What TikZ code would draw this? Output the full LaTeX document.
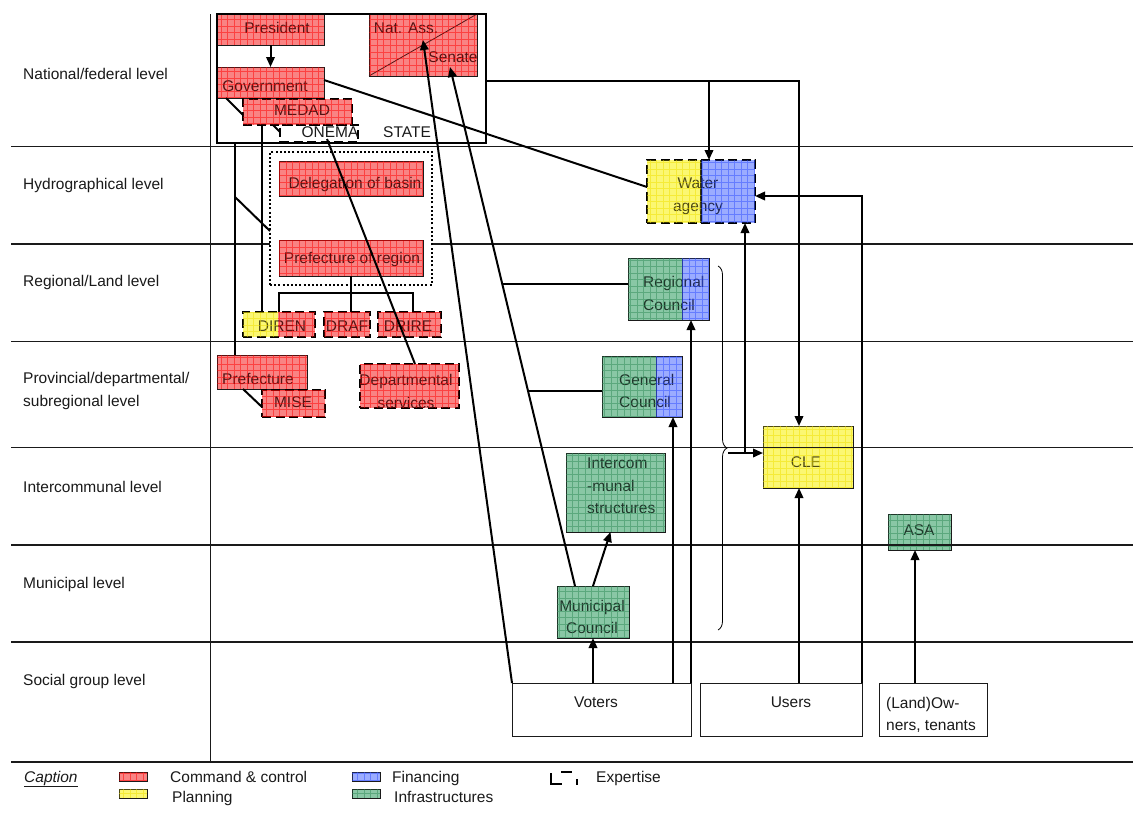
\documentclass[tikz,border=0pt]{standalone}
\usepackage{fontspec}
\setmainfont{Liberation Sans}
\usetikzlibrary{arrows.meta,calc,decorations.pathreplacing}

\definecolor{ink}{HTML}{1A1A1A}
\definecolor{ccbase}{HTML}{F7B0B0}
\definecolor{cctint}{HTML}{FF0000}
\definecolor{plbase}{HTML}{FFFF99}
\definecolor{pltint}{HTML}{F0E000}
\definecolor{fibase}{HTML}{C0CCFF}
\definecolor{fitint}{HTML}{3050FF}
\definecolor{inbase}{HTML}{A8DCC0}
\definecolor{intint}{HTML}{2E8B57}

% translucent wash plus a fine grid over a rectangle (drawn over the text)
\newcommand\wash[3]{%
  \begin{scope}
    \clip #1 rectangle #2;
    \fill[#3, opacity=.25] #1 rectangle #2;
    \draw[#3, line width=.45pt, opacity=.5, step=6.5pt] #1 grid #2;
  \end{scope}}
\newcommand\washnode[2]{\wash{(#1.north west)}{(#1.south east)}{#2}}

\tikzset{
  box/.style={anchor=north west, inner sep=0pt, outer sep=0pt, draw=ink, line width=.8pt},
  expert/.style={draw=black, line width=2.4pt, dash pattern=on 9pt off 4.5pt},
  frame/.style={anchor=north west, inner sep=0pt, outer sep=0pt},
  txt/.style={inner sep=0pt, text=ink, text height=11pt, text depth=3pt},
  mtxt/.style={inner sep=0pt, text=ink, align=center},
  ltxt/.style={inner sep=0pt, text=ink, align=left},
  link/.style={line width=2pt},
  arr/.style={line width=2pt, -{Triangle[length=10pt,width=8.5pt]}},
  level/.style={line width=1.3pt, draw=ink},
  zone/.style={anchor=north west, inner sep=0pt, outer sep=0pt, fill=white, draw=black,
    line width=1.6pt, dash pattern=on 2pt off 2.2pt},
  leftpart/.style={path picture={\fill[#1] (path picture bounding box.north west)
    rectangle ($(path picture bounding box.south west)+(54,0)$);}},
}

\begin{document}
\begin{tikzpicture}[x=1pt, y=-1pt, font=\fontsize{15.5}{22.5}\selectfont]
\useasboundingbox (0,0) rectangle (1133,819);
\fill[white] (0,0) rectangle (1133,819);

% ---------- level names
\node[txt, anchor=west] (lvNat) at (23,75) {National/federal level};
\node[txt, anchor=west] (lvHyd) at (23,185) {Hydrographical level};
\node[txt, anchor=west] (lvReg) at (23,282) {Regional/Land level};
\node[ltxt, anchor=west] (lvProv) at (23,391) {Provincial/departmental/\\subregional level};
\node[txt, anchor=west] (lvInt) at (23,488) {Intercommunal level};
\node[txt, anchor=west] (lvMun) at (23,584) {Municipal level};
\node[txt, anchor=west] (lvSoc) at (23,681) {Social group level};

% ---------- the State frame (outline drawn later)
\node[frame, minimum width=269pt, minimum height=129pt] (state) at (217,14) {};

% ---------- actors
\node[box, fill=ccbase, minimum width=107pt, minimum height=31pt] (pres) at (217,14) {};
\node[box, fill=ccbase, minimum width=107pt, minimum height=31pt] (gov) at (217,67) {};
\node[box, fill=ccbase, minimum width=108pt, minimum height=62pt] (natass) at (369,14) {};
\draw[line width=.8pt, ink] (natass.south west) -- (natass.north east);
\node[box, expert, fill=ccbase, minimum width=109pt, minimum height=26pt] (medad) at (243,99) {};
\node[box, expert, minimum width=78pt, minimum height=17pt] (onema) at (280,125) {};
\node[box, expert, fill=ccbase, minimum width=72pt, minimum height=25pt,
  path picture={\fill[plbase] (path picture bounding box.north west)
    rectangle ($(path picture bounding box.south west)+(35,0)$);}] (diren) at (243,312) {};
\node[box, expert, fill=ccbase, minimum width=46pt, minimum height=25pt] (draf) at (324,312) {};
\node[box, expert, fill=ccbase, minimum width=63pt, minimum height=25pt] (drire) at (378,312) {};
\node[box, fill=ccbase, minimum width=90pt, minimum height=34pt] (pref) at (217,355) {};
\node[box, expert, fill=ccbase, minimum width=63pt, minimum height=27pt] (mise) at (262,390) {};
\node[box, expert, fill=ccbase, minimum width=99pt, minimum height=44pt] (dept) at (360,364) {};
\node[box, expert, fill=fibase, leftpart=plbase, minimum width=108pt, minimum height=63pt] (wa) at (647,160) {};
\draw[line width=1.8pt] ($(wa.north west)+(54,0)$) -- ($(wa.south west)+(54,0)$);
\node[box, fill=fibase, leftpart=inbase, minimum width=81pt, minimum height=62pt] (rc) at (628,258) {};
\draw[line width=.8pt, ink] ($(rc.north west)+(54,0)$) -- ($(rc.south west)+(54,0)$);
\node[box, fill=fibase, leftpart=inbase, minimum width=80pt, minimum height=61pt] (gc) at (602,356) {};
\draw[line width=.8pt, ink] ($(gc.north west)+(54,0)$) -- ($(gc.south west)+(54,0)$);
\node[box, fill=plbase, minimum width=90pt, minimum height=62pt] (cle) at (763,426) {};
\node[box, fill=inbase, minimum width=99pt, minimum height=79pt] (ic) at (566,453) {};
\node[box, fill=inbase, minimum width=72pt, minimum height=52pt] (mc) at (557,586) {};
\node[box, fill=inbase, minimum width=63pt, minimum height=36pt] (asa) at (888,514) {};
\node[box, fill=white, minimum width=179pt, minimum height=53pt] (voters) at (512,683) {};
\node[box, fill=white, minimum width=162pt, minimum height=53pt] (users) at (700,683) {};
\node[box, fill=white, minimum width=108pt, minimum height=53pt] (owners) at (879,683) {};

% ---------- their names
\node[txt] (presT) at (277,30) {President};
\node[txt] (govT) at (265,87) {Government};
\node[txt] (natT) at (406,30) {Nat. Ass.};
\node[txt] (senT) at (453,58) {Senate};
\node[txt] (medadT) at (302,111) {MEDAD};
\node[txt] (onemaT) at (330,133) {ONEMA};
\node[txt] (stateT) at (407,133) {STATE};
\node[txt] (direnT) at (282,327) {DIREN};
\node[txt] (drafT) at (347,327) {DRAF};
\node[txt] (drireT) at (408,327) {DRIRE};
\node[txt] (prefT) at (258,380) {Prefecture};
\node[txt] (miseT) at (293,403) {MISE};
\node[mtxt] (deptT) at (406,391.5) {Departmental\\services};
\node[mtxt] (waT) at (698,196.5) {Water\\agency};
\node[ltxt, anchor=west] (rcT) at (643,293.5) {Regional\\Council};
\node[ltxt, anchor=west] (gcT) at (619,391) {General\\Council};
\node[txt] (cleT) at (806,463) {CLE};
\node[ltxt, anchor=west] (icT) at (587,486) {Intercom\\-munal\\structures};
\node[mtxt] (mcT) at (592,617) {Municipal\\Council};
\node[txt] (asaT) at (919,531) {ASA};
\node[txt] (votersT) at (596,703) {Voters};
\node[txt] (usersT) at (791,703) {Users};
\node[ltxt, anchor=west] (ownersT) at (886,715) {(Land)Ow-\\ners, tenants};

% ---------- hatched washes over the coloured boxes
\washnode{pres}{cctint}
\washnode{gov}{cctint}
\washnode{natass}{cctint}
\washnode{medad}{cctint}
\wash{(diren.north west)}{($(diren.south west)+(35,0)$)}{pltint}
\wash{($(diren.north west)+(35,0)$)}{(diren.south east)}{cctint}
\washnode{draf}{cctint}
\washnode{drire}{cctint}
\washnode{pref}{cctint}
\washnode{mise}{cctint}
\washnode{dept}{cctint}
\wash{(wa.north west)}{($(wa.south west)+(54,0)$)}{pltint}
\wash{($(wa.north west)+(54,0)$)}{(wa.south east)}{fitint}
\wash{(rc.north west)}{($(rc.south west)+(54,0)$)}{intint}
\wash{($(rc.north west)+(54,0)$)}{(rc.south east)}{fitint}
\wash{(gc.north west)}{($(gc.south west)+(54,0)$)}{intint}
\wash{($(gc.north west)+(54,0)$)}{(gc.south east)}{fitint}
\washnode{cle}{pltint}
\washnode{ic}{intint}
\washnode{mc}{intint}
\washnode{asa}{intint}

% ---------- level grid
\foreach \yy in {146.5,244,341.5,447.5,545,642,762}
  \draw[level] (11,\yy) -- (1133,\yy);
\draw[level] (210.5,14) -- (210.5,762);

% ---------- basin / region zone
\node[zone, minimum width=162pt, minimum height=133pt] (zone) at (270,152) {};
\node[box, fill=ccbase, minimum width=144pt, minimum height=35pt] (deleg) at (279,161) {};
\node[box, fill=ccbase, minimum width=144pt, minimum height=36pt] (prefreg) at (279,240) {};
\node[txt] (delegT) at (355,184) {Delegation of basin};
\node[txt] (prefregT) at (352,259) {Prefecture of region};
\washnode{deleg}{cctint}
\washnode{prefreg}{cctint}

\draw[line width=2.3pt] (state.north west) rectangle (state.south east);

% ---------- connectors
\draw[arr] (pres.south) -- (gov.north);
\draw[link] ($(gov.south west)+(9,0)$) -- ($(medad.west)+(0,3)$);
\draw[link] ($(medad.south west)+(30,0)$) -- ($(onema.west)+(0,-1.5)$);
\coordinate (mdDown) at ($(medad.south west)+(19,0)$);
\draw[link] (mdDown) -- (mdDown |- diren.north);
\coordinate (stDown) at ($(state.south west)+(18,0)$);
\coordinate (prefTop) at (stDown |- pref.north);
\draw[link] (stDown) -- (prefTop);
\draw[link] ($(stDown)!0.2547!(prefTop)$) -- ($(zone.west)+(0,12.5)$);

\coordinate (dirN) at ($(diren.north west)+(36,0)$);
\coordinate (drirN) at ($(drire.north)+(3.5,0)$);
\coordinate (bar) at ($(prefreg.south)+(0,17)$);
\draw[link] (prefreg.south) -- (prefreg.south |- draf.north);
\draw[link] (dirN) |- (bar -| drirN) -- (drirN);

\draw[link] ($(pref.south west)+(26,0)$) -- ($(mise.west)+(0,3.5)$);
\draw[link] ($(onema.south)+(8,-3)$) -- ($(dept.north)+(5.5,0)$);

\coordinate (govOut) at ($(gov.east)+(0,-2.5)$);
\coordinate (waL) at ($(wa.west)+(0,-4.5)$);
\draw[link] (govOut) -- (waL);

\coordinate (stateOut) at ($(state.east)+(0,2.5)$);
\coordinate (cleTop) at ($(cle.north)+(-9,0)$);
\draw[arr] (stateOut) -| (cleTop);
\coordinate (waTop) at ($(wa.north)+(8,0)$);
\draw[arr] (waTop |- stateOut) -- (waTop);

\coordinate (waR) at ($(wa.east)+(0,4.5)$);
\draw[arr] (users.north east) |- (waR);
\coordinate (cleBot) at ($(cle.south)+(-9,0)$);
\draw[arr] (cleBot |- users.north) -- (cleBot);

\coordinate (natIn) at ($(natass.center)+(0,-5)$);
\coordinate (senIn) at ($(natass.center)+(27,22)$);
\coordinate (mcOut) at ($(mc.north)+(-18,0)$);
\draw[arr] (voters.north west) -- (natIn);
\draw[arr] (mcOut) -- (senIn);
\coordinate (rcJoin) at ($(mcOut)!0.582!(senIn)$);
\coordinate (gcJoin) at ($(mcOut)!0.3757!(senIn)$);
\draw[link] (rcJoin) -- (rcJoin -| rc.west);
\draw[link] (gcJoin) -- (gcJoin -| gc.west);

\draw[arr] (voters.north east) -- (voters.north east |- rc.south);
\coordinate (vgc) at ($(voters.north east)+(-18,0)$);
\draw[arr] (vgc) -- (vgc |- gc.south);
\draw[arr] (mc.south |- voters.north) -- (mc.south);
\draw[arr] (mc.north) -- ($(ic.south)+(-5,0)$);
\coordinate (asaIn) at ($(asa.south)+(-4.5,0)$);
\draw[arr] (asaIn |- owners.north) -- (asaIn);

% councils grouped by a brace, feeding the CLE and the water agency
\coordinate (brTop) at (718,266);
\coordinate (brBot) at (718,630);
\draw[line width=.8pt, decorate, decoration={brace, amplitude=9pt}] (brTop) -- (brBot);
\coordinate (brTip) at (728,453);
\draw[arr] (brTip) -- (brTip -| cle.west);
\coordinate (waBot) at ($(wa.south)+(44,0)$);
\draw[arr] (waBot |- brTip) -- (waBot);

% ---------- caption
\node[txt, anchor=west] (capT) at (24,778) {\underline{\textit{Caption}}};
\node[box, fill=ccbase, minimum width=28pt, minimum height=9pt] (swCC) at (119,772) {};
\node[box, fill=plbase, minimum width=28pt, minimum height=9pt] (swPL) at (119,789) {};
\node[box, fill=fibase, minimum width=28pt, minimum height=9pt] (swFI) at (352,772) {};
\node[box, fill=inbase, minimum width=28pt, minimum height=9pt] (swIN) at (352,789) {};
\washnode{swCC}{cctint}
\washnode{swPL}{pltint}
\washnode{swFI}{fitint}
\washnode{swIN}{intint}
\node[txt, anchor=west] (capCC) at (170,778) {Command \& control};
\node[txt, anchor=west] (capPL) at (172,798) {Planning};
\node[txt, anchor=west] (capFI) at (392,778) {Financing};
\node[txt, anchor=west] (capIN) at (394,798) {Infrastructures};
\draw[line width=2.4pt] (551,773) -- (551,784) -- (562,784);
\draw[line width=2.4pt] (561,772) -- (572,772);
\draw[line width=2.4pt] (577,779) -- (577,784.5);
\node[txt, anchor=west] (capEX) at (596,778) {Expertise};
\end{tikzpicture}
\end{document}
